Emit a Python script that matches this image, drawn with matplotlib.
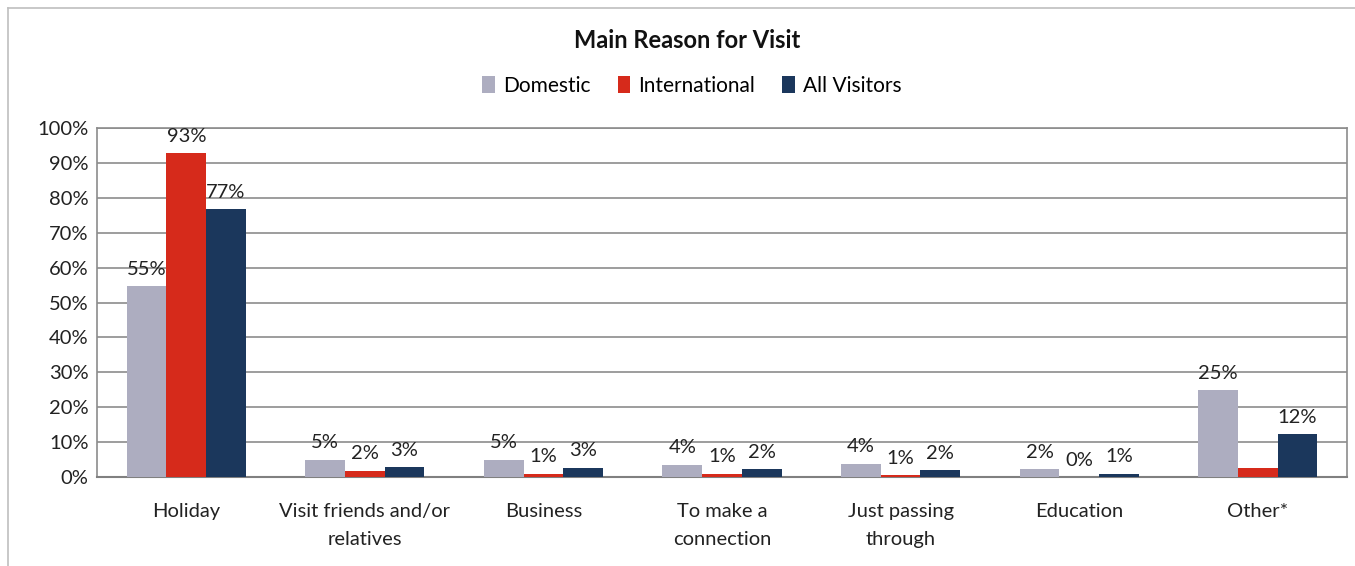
import matplotlib
matplotlib.use("Agg")
import matplotlib.pyplot as plt
import numpy as np
from matplotlib.lines import Line2D
from matplotlib.patches import Patch

plt.rcParams['font.family'] = ['Lato', 'DejaVu Sans']

categories = ["Holiday", "Visit friends and/or\nrelatives", "Business",
              "To make a\nconnection", "Just passing\nthrough", "Education", "Other*"]
series_names = ["Domestic", "International", "All Visitors"]
domestic = [54.7, 5.0, 5.0, 3.5, 3.8, 2.2, 24.9]
international = [92.8, 1.8, 1.0, 1.0, 0.6, 0.0, 2.6]
all_visitors = [76.7, 2.9, 2.7, 2.3, 1.9, 1.0, 12.3]
# International "Other*" carries no data label
show_label = [
    [True] * 7,
    [True, True, True, True, True, True, False],
    [True] * 7,
]
colors = ["#ADADC0", "#D62A1B", "#1B375C"]
yticks = [0, 10, 20, 30, 40, 50, 60, 70, 80, 90, 100]

fig = plt.figure(figsize=(13.55, 5.66), dpi=100)
ax = fig.add_axes([97 / 1355, 89 / 566, 1250 / 1355, 349 / 566])

x = np.arange(len(categories))
w = 1 / 4.5
for i, (vals, col) in enumerate(zip([domestic, international, all_visitors], colors)):
    pos = x + (i - 1) * w
    ax.bar(pos, vals, width=w, color=col, zorder=3, edgecolor='none')
    for p, v, s in zip(pos, vals, show_label[i]):
        if s:
            ax.annotate(f"{v:.0f}%", (p, v), xytext=(0, 6), textcoords='offset points',
                        ha='center', va='bottom', fontsize=14.5, color='#222222', zorder=4)

ax.set_xlim(-0.5, len(categories) - 0.5)
ax.set_ylim(0, 100)
ax.set_yticks(yticks)
ax.set_yticklabels([f"{t}%" for t in yticks], fontsize=14.5, color='#222222')
ax.set_xticks(x)
ax.set_xticklabels(categories, fontsize=14.5, color='#222222', linespacing=1.75)
ax.tick_params(axis='both', length=0)
ax.tick_params(axis='y', pad=6)
ax.tick_params(axis='x', pad=19)
ax.yaxis.grid(True, color='#8C8C8C', linewidth=1.2, zorder=0)
ax.set_axisbelow(True)
for side in ['top', 'right', 'left']:
    ax.spines[side].set_color('#8C8C8C')
    ax.spines[side].set_linewidth(1.2)
ax.spines['bottom'].set_color('#808080')
ax.spines['bottom'].set_linewidth(1.5)

fig.text(687 / 1355, 1 - 40 / 566, "Main Reason for Visit", ha='center', va='center',
         fontsize=17, fontweight='bold', color='#111111')

handles = [Patch(facecolor=c, edgecolor='none') for c in colors]
fig.legend(handles, series_names, loc='center', bbox_to_anchor=(692 / 1355, 1 - 86 / 566),
           ncol=3, frameon=False, fontsize=15, handlelength=0.6, handleheight=0.9,
           handletextpad=0.4, columnspacing=1.3)

# outer chart frame
fig.add_artist(Line2D([8 / 1355, 8 / 1355], [0, 1 - 8 / 566], transform=fig.transFigure,
                      color='#BFBFBF', linewidth=1.2))
fig.add_artist(Line2D([8 / 1355, 1], [1 - 8 / 566, 1 - 8 / 566], transform=fig.transFigure,
                      color='#BFBFBF', linewidth=1.2))

fig.savefig("out.png", dpi=100)
